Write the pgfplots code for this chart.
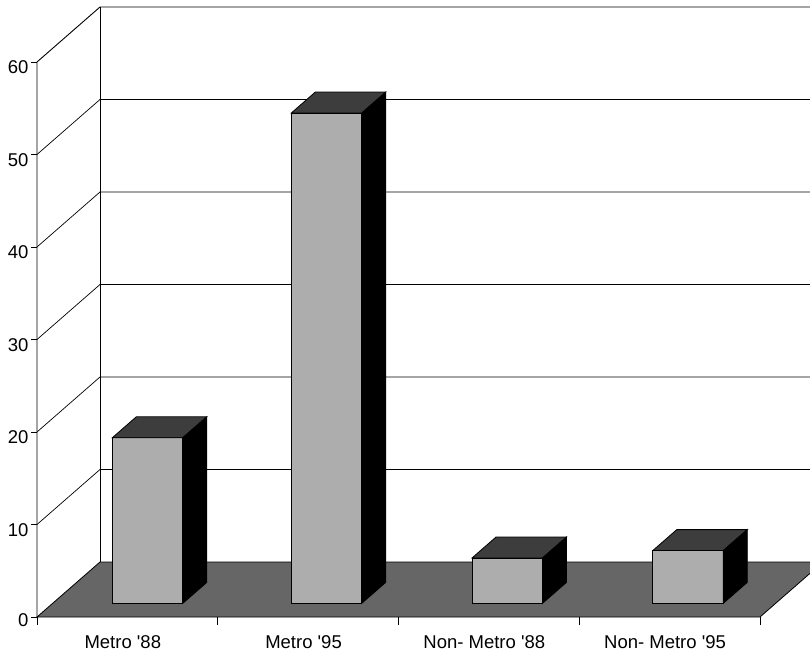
\documentclass[border=0pt]{standalone}
\usepackage{pgfplots}
\pgfplotsset{compat=1.18}
\usepackage{fontspec}
\setmainfont{Liberation Sans}
\definecolor{frontc}{gray}{0.68}
\definecolor{topc}{gray}{0.24}
\definecolor{floorc}{gray}{0.40}
\begin{document}
\begin{tikzpicture}
\path[use as bounding box] (-37pt,-41pt) rectangle (773pt,617pt);
\clip (-37pt,-41pt) rectangle (773pt,617pt);
\begin{axis}[
  at={(0pt,0pt)}, anchor=origin,
  x={(180.75pt,0pt)}, y={(63pt,55pt)}, z={(0pt,9.25pt)},
  xmin=0,xmax=4,ymin=0,ymax=1,zmin=0,zmax=60,
  clip=false,
  axis line style={draw=none},
  xtick={0.5,1.5,2.5,3.5},
  xticklabels={Metro \textquotesingle88, Metro \textquotesingle95, Non- Metro \textquotesingle88, Non- Metro \textquotesingle95},
  ytick=\empty,
  ztick={0,10,...,60},
  tick style={draw=none},
  grid=none,
  ticklabel style={font=\fontsize{18.5}{22}\selectfont, /pgf/number format/assume math mode=true},
  xticklabel style={yshift=-15pt},
  zticklabel style={xshift=-5pt},
]
% walls gridlines
\pgfplotsinvokeforeach{10,20,30,40,50}{
  \draw[black, line width=0.7pt] (axis cs:0,0,#1) -- (axis cs:0,1,#1) -- (axis cs:4,1,#1);
}
\draw[black, line width=0.9pt] (axis cs:0,0,0) -- (axis cs:0,0,60) -- (axis cs:0,1,60) -- (axis cs:4,1,60);
\draw[black, line width=0.9pt] (axis cs:0,1,0) -- (axis cs:0,1,60);
% floor
\addplot3[fill=floorc, draw=black, mark=none, line width=0.8pt] coordinates {(0,0,0) (4,0,0) (4,1,0) (0,1,0)} --cycle;
% bar 1
\addplot3[fill=frontc, draw=black, mark=none, line width=0.8pt] coordinates {(0.33,0.25,0) (0.72,0.25,0) (0.72,0.25,17.9) (0.33,0.25,17.9)} --cycle;
\addplot3[fill=topc, draw=black, mark=none, line width=0.8pt] coordinates {(0.33,0.25,17.9) (0.72,0.25,17.9) (0.72,0.63,17.9) (0.33,0.63,17.9)} --cycle;
\addplot3[fill=black, draw=black, mark=none, line width=0.8pt] coordinates {(0.72,0.25,0) (0.72,0.63,0) (0.72,0.63,17.9) (0.72,0.25,17.9)} --cycle;
% bar 2
\addplot3[fill=frontc, draw=black, mark=none, line width=0.8pt] coordinates {(1.32,0.25,0) (1.71,0.25,0) (1.71,0.25,53.0) (1.32,0.25,53.0)} --cycle;
\addplot3[fill=topc, draw=black, mark=none, line width=0.8pt] coordinates {(1.32,0.25,53.0) (1.71,0.25,53.0) (1.71,0.63,53.0) (1.32,0.63,53.0)} --cycle;
\addplot3[fill=black, draw=black, mark=none, line width=0.8pt] coordinates {(1.71,0.25,0) (1.71,0.63,0) (1.71,0.63,53.0) (1.71,0.25,53.0)} --cycle;
% bar 3
\addplot3[fill=frontc, draw=black, mark=none, line width=0.8pt] coordinates {(2.32,0.25,0) (2.71,0.25,0) (2.71,0.25,4.9) (2.32,0.25,4.9)} --cycle;
\addplot3[fill=topc, draw=black, mark=none, line width=0.8pt] coordinates {(2.32,0.25,4.9) (2.71,0.25,4.9) (2.71,0.63,4.9) (2.32,0.63,4.9)} --cycle;
\addplot3[fill=black, draw=black, mark=none, line width=0.8pt] coordinates {(2.71,0.25,0) (2.71,0.63,0) (2.71,0.63,4.9) (2.71,0.25,4.9)} --cycle;
% bar 4
\addplot3[fill=frontc, draw=black, mark=none, line width=0.8pt] coordinates {(3.32,0.25,0) (3.71,0.25,0) (3.71,0.25,5.7) (3.32,0.25,5.7)} --cycle;
\addplot3[fill=topc, draw=black, mark=none, line width=0.8pt] coordinates {(3.32,0.25,5.7) (3.71,0.25,5.7) (3.71,0.63,5.7) (3.32,0.63,5.7)} --cycle;
\addplot3[fill=black, draw=black, mark=none, line width=0.8pt] coordinates {(3.71,0.25,0) (3.71,0.63,0) (3.71,0.63,5.7) (3.71,0.25,5.7)} --cycle;
% tick marks
\pgfplotsinvokeforeach{0,1,2,3,4}{
  \draw[black, line width=0.8pt] (axis cs:#1,0,0) -- ++(0pt,-8pt);
}
\pgfplotsinvokeforeach{0,10,20,30,40,50,60}{
  \draw[black, line width=0.8pt] (axis cs:0,0,#1) -- ++(-6pt,0pt);
}
\end{axis}
\end{tikzpicture}
\end{document}
